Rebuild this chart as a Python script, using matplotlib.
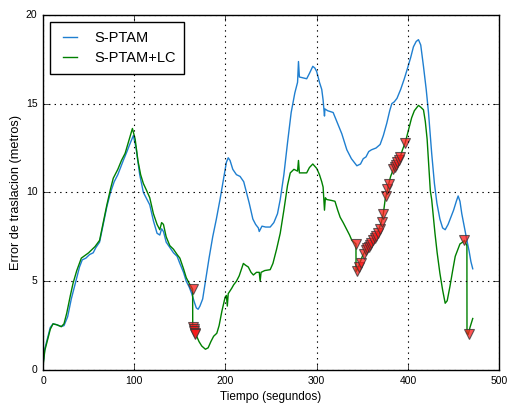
import numpy as np
import matplotlib
matplotlib.use("Agg")
import matplotlib.pyplot as plt

plt.style.use("classic")
plt.rcParams["font.family"] = ["Liberation Sans", "DejaVu Sans"]

# S-PTAM translation error (seconds, metres)
t_sptam = [0, 2, 5, 8, 11, 15, 20, 23, 27, 31, 35, 40, 43, 47, 51, 55, 58, 62, 66, 70,
           74, 78, 82, 85, 88, 92, 95, 99, 102, 106, 110, 114, 117, 121, 125, 128, 130,
           132, 135, 139, 143, 147, 150, 154, 157, 160, 163, 166, 168, 170, 172, 175,
           178, 182, 186, 190, 194, 198, 201, 203, 205, 208, 212, 216, 220, 223, 226,
           230, 233, 236, 237, 240, 244, 249, 253, 257, 260, 264, 268, 272, 276, 279,
           280, 281, 285, 289, 292, 295.7, 298, 300, 303, 305.5, 307, 308.5, 309, 312,
           318, 322, 327.5, 333, 338, 344, 348, 351, 354, 357, 360, 365, 369.5, 373,
           376.8, 380, 382.3, 385, 388, 392, 396, 399, 403, 406, 409, 411.5, 414, 417,
           420, 422.5, 426, 429, 431.7, 435, 438, 440.8, 444, 447, 450, 453, 455, 457,
           459, 462, 464.6, 467, 469, 471]
e_sptam = [0.3, 1.2, 1.8, 2.4, 2.6, 2.55, 2.45, 2.5, 3.0, 4.0, 4.8, 5.8, 6.2, 6.3, 6.5,
           6.6, 6.9, 7.2, 8.2, 9.2, 10.0, 10.6, 11.0, 11.4, 11.8, 12.3, 12.7, 13.2, 12.5,
           11.0, 10.0, 9.6, 9.3, 8.4, 7.7, 7.6, 7.95, 7.8, 7.2, 6.9, 6.6, 6.4, 6.0, 5.5,
           5.0, 4.7, 4.3, 3.8, 3.5, 3.42, 3.6, 4.0, 5.0, 6.3, 7.5, 8.5, 9.6, 10.8, 11.7,
           11.95, 11.8, 11.3, 11.0, 10.9, 10.6, 10.0, 9.4, 8.5, 8.2, 8.0, 7.8, 8.1, 8.05,
           8.05, 8.3, 8.8, 9.6, 11.0, 12.8, 14.5, 15.6, 16.2, 17.37, 16.5, 16.45, 16.4,
           16.7, 17.1, 17.0, 16.8, 16.2, 15.8, 15.2, 14.3, 14.7, 14.6, 14.5, 14.0, 13.3,
           12.4, 11.9, 11.5, 11.6, 11.9, 12.0, 12.3, 12.4, 12.5, 12.7, 13.2, 13.9, 14.6,
           15.0, 15.1, 15.3, 15.8, 16.4, 16.9, 17.6, 18.2, 18.5, 18.6, 18.3, 17.1, 15.8,
           14.5, 12.2, 10.5, 9.4, 8.5, 8.0, 7.9, 8.2, 8.6, 9.0, 9.5, 9.8, 9.5, 8.8, 8.0,
           7.3, 6.7, 6.1, 5.7]

# S-PTAM with loop closure
t_lc = [0, 2, 4, 8, 11, 15, 20, 23, 26, 30, 33, 37, 42, 46, 50, 54, 57, 62, 66, 70, 74,
        77, 80, 82, 86, 90, 94, 98, 101, 104, 107, 110, 113.6, 117, 121, 125, 128, 130,
        132, 135, 139, 143, 147, 150, 154, 157, 160, 164, 164.1, 166, 168, 171, 174, 178,
        181, 184, 187, 190.5, 193, 196, 199.6, 201, 202, 203, 206.8, 209, 212, 215, 219.6,
        222, 225, 228, 230.6, 234, 237, 238, 239, 243, 249, 252, 256, 260, 264, 268, 271,
        275, 279, 280, 281, 285, 289, 292, 295.7, 300, 303, 305.5, 307, 308.5, 309.5, 311,
        316, 320, 323, 325.7, 329, 333, 336, 338.5, 343, 343.1, 345, 347, 350, 353, 356,
        359, 362, 365, 368, 371, 373, 375, 377, 379, 381, 384, 388, 391.5, 394, 397, 400.5,
        404, 407, 411.5, 414, 417, 419, 421, 424.5, 426, 429.6, 432, 435, 438, 440.8, 443,
        446, 449, 451.8, 454, 457, 460, 462, 464.6, 464.7, 466, 468, 471]
e_lc = [0.2, 1.1, 1.5, 2.3, 2.6, 2.55, 2.44, 2.6, 3.2, 4.2, 4.9, 5.6, 6.3, 6.45, 6.6, 6.8,
        6.95, 7.3, 8.3, 9.3, 10.2, 10.8, 11.1, 11.3, 11.8, 12.2, 12.9, 13.6, 13.0, 11.8,
        11.0, 10.5, 10.1, 9.7, 8.8, 8.2, 7.9, 8.3, 8.2, 7.5, 7.0, 6.8, 6.5, 6.3, 5.7, 5.2,
        4.9, 4.55, 2.4, 2.2, 1.95, 1.6, 1.35, 1.17, 1.25, 1.6, 1.9, 2.07, 2.5, 3.3, 4.1,
        4.2, 3.6, 4.3, 4.6, 4.8, 5.0, 5.3, 6.0, 5.9, 5.8, 5.5, 5.35, 5.5, 5.5, 5.0, 5.5,
        5.6, 5.65, 6.0, 6.8, 7.7, 9.0, 10.4, 11.1, 11.3, 11.2, 11.8, 11.1, 11.1, 11.1,
        11.4, 11.6, 11.35, 11.0, 10.6, 10.3, 9.0, 9.7, 9.6, 9.55, 9.5, 9.0, 8.6, 8.3, 7.9,
        7.6, 7.3, 7.1, 5.55, 5.7, 6.0, 6.4, 6.7, 6.95, 7.1, 7.3, 7.6, 7.9, 8.35, 8.8, 9.6,
        10.0, 10.5, 10.9, 11.3, 11.6, 12.0, 12.4, 12.8, 13.5, 14.2, 14.6, 14.9, 14.8,
        14.65, 14.0, 13.0, 10.1, 9.6, 7.7, 6.6, 5.45, 4.5, 3.76, 3.9, 4.7, 5.6, 6.4, 6.7,
        7.1, 7.2, 7.3, 7.0, 2.1, 2.0, 2.4, 2.9]

# Loop closure detections
t_loop = [164, 164.3, 165, 165.6, 166.2, 167, 343.2, 344.6, 346.5, 348.3, 352, 354, 355.5,
          357, 358.5, 360, 362, 364, 365.5, 367, 369, 371, 373, 376, 377.5, 379, 384,
          385.5, 387, 388.5, 390, 391.5, 397, 461.6, 466.4]
e_loop = [4.55, 2.4, 2.3, 2.2, 2.1, 2.0, 7.1, 5.55, 5.8, 6.0, 6.55, 6.75, 6.85, 6.95, 7.05,
          7.15, 7.3, 7.45, 7.55, 7.7, 7.95, 8.35, 8.8, 9.8, 10.2, 10.5, 11.3, 11.45, 11.55,
          11.7, 11.85, 12.0, 12.8, 7.3, 2.05]

fig = plt.figure(figsize=(5.12, 4.05), dpi=100, facecolor="white")
ax = fig.add_axes([0.084, 0.0864, 0.891, 0.877])
ax.set_facecolor("white")

ax.plot(t_sptam, e_sptam, color="#1f7fd0", lw=1.0, label="S-PTAM")
ax.plot(t_lc, e_lc, color="#008000", lw=1.0, label="S-PTAM+LC")
ax.plot(t_loop, e_loop, linestyle="none", marker="v", markersize=7,
        markerfacecolor="#ff1a1a", markeredgecolor="#333333", markeredgewidth=0.8,
        alpha=0.75)

ax.set_xlim(0, 500)
ax.set_ylim(0, 20)
ax.set_xticks([0, 100, 200, 300, 400, 500])
ax.set_yticks([0, 5, 10, 15, 20])
ax.grid(True, color="k", linestyle=":", linewidth=0.8)
ax.tick_params(labelsize=7.5)
ax.set_xlabel("Tiempo (segundos)", fontsize=8.5, labelpad=4)
ax.set_ylabel("Error de traslacion (metros)", fontsize=9.2, labelpad=3)
ax.legend(loc="upper left", fontsize=10.5, borderaxespad=0.5, handlelength=1.5,
          handletextpad=0.9, borderpad=0.6, labelspacing=0.45)

fig.savefig("out.png", dpi=100, facecolor="white")
